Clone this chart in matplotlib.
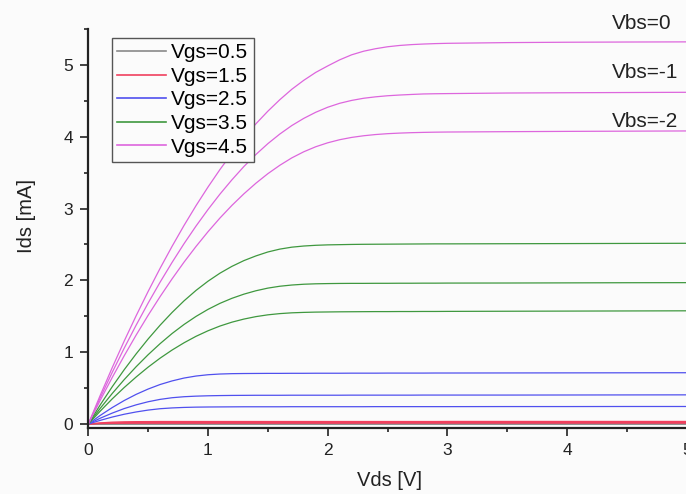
import matplotlib
matplotlib.use("Agg")
import matplotlib.pyplot as plt

plt.rcParams['font.family'] = ['Liberation Sans', 'DejaVu Sans']

# ---- data ----
vds = [0, 0.1, 0.2, 0.3, 0.4, 0.5, 0.6, 0.7, 0.8, 0.9, 1.0, 1.1, 1.2, 1.3, 1.4,
       1.5, 1.6, 1.7, 1.8, 1.9, 2.0, 2.1, 2.2, 2.3, 2.4, 2.5, 2.6, 2.7, 2.8, 2.9,
       3.0, 3.5, 4.0, 4.5, 5.0]

vgs_labels = ["Vgs=0.5", "Vgs=1.5", "Vgs=2.5", "Vgs=3.5", "Vgs=4.5"]
vbs_labels = ["Vbs=0", "Vbs=-1", "Vbs=-2"]

ids_vgs05 = [
    [0, 0.001, 0.0015, 0.002, 0.002, 0.002, 0.002, 0.002, 0.002, 0.002, 0.002, 0.002, 0.002, 0.002, 0.002,
     0.002, 0.002, 0.002, 0.002, 0.002, 0.002, 0.002, 0.002, 0.002, 0.002, 0.002, 0.002, 0.002, 0.002, 0.002,
     0.002, 0.002, 0.002, 0.002, 0.002],
    [0, 0.0007, 0.001, 0.0012, 0.0012, 0.0012, 0.0012, 0.0012, 0.0012, 0.0012, 0.0012, 0.0012, 0.0012, 0.0012, 0.0012,
     0.0012, 0.0012, 0.0012, 0.0012, 0.0012, 0.0012, 0.0012, 0.0012, 0.0012, 0.0012, 0.0012, 0.0012, 0.0012, 0.0012, 0.0012,
     0.0012, 0.0012, 0.0012, 0.0012, 0.0012],
    [0, 0.0004, 0.0006, 0.0007, 0.0007, 0.0007, 0.0007, 0.0007, 0.0007, 0.0007, 0.0007, 0.0007, 0.0007, 0.0007, 0.0007,
     0.0007, 0.0007, 0.0007, 0.0007, 0.0007, 0.0007, 0.0007, 0.0007, 0.0007, 0.0007, 0.0007, 0.0007, 0.0007, 0.0007, 0.0007,
     0.0007, 0.0007, 0.0007, 0.0007, 0.0007],
]
ids_vgs15 = [
    [0, 0.016, 0.026, 0.031, 0.033, 0.034, 0.035, 0.035, 0.035, 0.035, 0.035, 0.035, 0.035, 0.035, 0.035,
     0.035, 0.035, 0.035, 0.035, 0.035, 0.035, 0.035, 0.035, 0.035, 0.035, 0.035, 0.035, 0.035, 0.035, 0.035,
     0.036, 0.036, 0.036, 0.036, 0.036],
    [0, 0.010, 0.016, 0.019, 0.020, 0.021, 0.021, 0.021, 0.021, 0.021, 0.021, 0.021, 0.021, 0.021, 0.021,
     0.021, 0.021, 0.021, 0.021, 0.021, 0.021, 0.021, 0.021, 0.022, 0.022, 0.022, 0.022, 0.022, 0.022, 0.022,
     0.022, 0.022, 0.022, 0.022, 0.022],
    [0, 0.006, 0.009, 0.010, 0.011, 0.011, 0.011, 0.011, 0.011, 0.011, 0.011, 0.011, 0.011, 0.011, 0.011,
     0.011, 0.011, 0.011, 0.011, 0.011, 0.011, 0.011, 0.011, 0.012, 0.012, 0.012, 0.012, 0.012, 0.012, 0.012,
     0.012, 0.012, 0.012, 0.012, 0.012],
]
ids_vgs25 = [
    [0, 0.120, 0.229, 0.327, 0.413, 0.487, 0.550, 0.600, 0.640, 0.668, 0.686, 0.696, 0.701, 0.703, 0.704,
     0.705, 0.705, 0.706, 0.706, 0.707, 0.707, 0.707, 0.708, 0.708, 0.708, 0.709, 0.709, 0.709, 0.709, 0.710,
     0.710, 0.711, 0.712, 0.713, 0.714],
    [0, 0.081, 0.152, 0.215, 0.267, 0.310, 0.343, 0.366, 0.380, 0.388, 0.393, 0.396, 0.398, 0.399, 0.400,
     0.400, 0.400, 0.401, 0.401, 0.401, 0.401, 0.401, 0.402, 0.402, 0.402, 0.402, 0.402, 0.402, 0.403, 0.403,
     0.403, 0.403, 0.404, 0.405, 0.406],
    [0, 0.051, 0.097, 0.136, 0.168, 0.194, 0.213, 0.224, 0.231, 0.235, 0.237, 0.238, 0.239, 0.240, 0.240,
     0.240, 0.240, 0.241, 0.241, 0.241, 0.241, 0.241, 0.241, 0.241, 0.242, 0.242, 0.242, 0.242, 0.242, 0.242,
     0.242, 0.243, 0.243, 0.244, 0.244],
]
ids_vgs35 = [
    [0, 0.267, 0.519, 0.756, 0.977, 1.184, 1.376, 1.553, 1.715, 1.860, 1.988, 2.100, 2.195, 2.275, 2.340,
     2.395, 2.435, 2.462, 2.478, 2.488, 2.494, 2.497, 2.500, 2.502, 2.503, 2.504, 2.505, 2.506, 2.507, 2.508,
     2.508, 2.510, 2.512, 2.514, 2.516],
    [0, 0.219, 0.425, 0.618, 0.798, 0.965, 1.119, 1.260, 1.386, 1.498, 1.596, 1.680, 1.750, 1.808, 1.855,
     1.892, 1.918, 1.935, 1.946, 1.952, 1.955, 1.957, 1.958, 1.958, 1.959, 1.959, 1.960, 1.960, 1.961, 1.961,
     1.962, 1.963, 1.965, 1.967, 1.968],
    [0, 0.180, 0.350, 0.508, 0.655, 0.792, 0.917, 1.030, 1.131, 1.221, 1.298, 1.364, 1.418, 1.461, 1.495,
     1.520, 1.537, 1.548, 1.554, 1.558, 1.560, 1.562, 1.563, 1.564, 1.565, 1.565, 1.566, 1.566, 1.567, 1.567,
     1.568, 1.570, 1.572, 1.574, 1.576],
]
ids_vgs45 = [
    [0, 0.400, 0.785, 1.155, 1.508, 1.846, 2.168, 2.474, 2.765, 3.040, 3.299, 3.543, 3.771, 3.983, 4.179,
     4.355, 4.515, 4.660, 4.785, 4.895, 4.985, 5.070, 5.140, 5.190, 5.225, 5.252, 5.270, 5.282, 5.290, 5.296,
     5.300, 5.310, 5.315, 5.318, 5.320],
    [0, 0.367, 0.719, 1.056, 1.377, 1.684, 1.975, 2.250, 2.511, 2.756, 2.986, 3.201, 3.400, 3.585, 3.752,
     3.903, 4.037, 4.155, 4.255, 4.340, 4.410, 4.465, 4.505, 4.535, 4.555, 4.570, 4.580, 4.588, 4.595, 4.598,
     4.600, 4.608, 4.612, 4.615, 4.618],
    [0, 0.331, 0.648, 0.950, 1.239, 1.514, 1.774, 2.021, 2.254, 2.472, 2.677, 2.868, 3.044, 3.205, 3.352,
     3.485, 3.602, 3.705, 3.790, 3.860, 3.915, 3.958, 3.990, 4.013, 4.030, 4.042, 4.050, 4.056, 4.060, 4.063,
     4.065, 4.070, 4.074, 4.077, 4.080],
]

# annotation anchor points for Vbs labels (data coords)
vbs_label_x = [4.37, 4.37, 4.37]
vbs_label_y = [5.57, 4.89, 4.21]

colors = ['#8a8a8a', '#f0405e', '#5050ee', '#3f983f', '#dd66dd']
bg = '#fbfbfb'

fig = plt.figure(figsize=(6.86, 4.94), dpi=100, facecolor=bg)
ax = fig.add_axes([0.1287, 0.1344, 0.8725, 0.807])
ax.set_facecolor(bg)

all_sets = [ids_vgs05, ids_vgs15, ids_vgs25, ids_vgs35, ids_vgs45]
for label, col, curves in zip(vgs_labels, colors, all_sets):
    for i, ids in enumerate(curves):
        ax.plot(vds, ids, color=col, lw=0.9, label=label if i == 0 else None)

ax.set_xlim(0, 5)
ax.set_ylim(-0.05, 5.5)
ax.set_xticks([0, 1, 2, 3, 4, 5])
ax.set_yticks([0, 1, 2, 3, 4, 5])
ax.set_xticks([0.5, 1.5, 2.5, 3.5, 4.5], minor=True)
ax.set_yticks([0.5, 1.5, 2.5, 3.5, 4.5, 5.5], minor=True)

for s in ['top', 'right']:
    ax.spines[s].set_visible(False)
for s in ['left', 'bottom']:
    ax.spines[s].set_linewidth(1.6)
    ax.spines[s].set_color('#222222')

ax.tick_params(which='major', direction='out', length=6, width=1.2, colors='#222222',
               labelsize=12.5, pad=5, labelcolor='#222222')
ax.tick_params(which='minor', direction='out', length=3, width=1.2, colors='#222222')

ax.set_xlabel("Vds [V]", fontsize=14.5, color='#222222')
ax.set_ylabel("Ids [mA]", fontsize=14.5, color='#222222')
ax.xaxis.set_label_coords(0.504, -0.132)
ax.xaxis.label.set_va('center')
ax.yaxis.set_label_coords(-0.104, 0.531)
ax.yaxis.label.set_va('center')

for t, x, y in zip(vbs_labels, vbs_label_x, vbs_label_y):
    ax.text(x, y, t, fontsize=15, ha='left', va='center', color='#222222', clip_on=False)

leg = ax.legend(loc='upper left', bbox_to_anchor=(0.0396, 0.977), borderaxespad=0,
                fontsize=15, frameon=True, fancybox=False, framealpha=1,
                edgecolor='#555555', facecolor=bg, handlelength=2.35,
                handletextpad=0.25, labelspacing=0.22, borderpad=0.25)
leg.get_frame().set_linewidth(1.0)
for h in leg.get_lines():
    h.set_linewidth(1.2)

fig.savefig("out.png", dpi=100, facecolor=bg)
